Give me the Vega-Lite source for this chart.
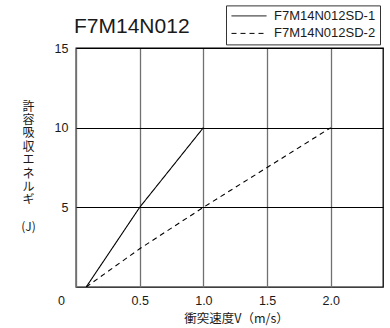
{
  "$schema": "https://vega.github.io/schema/vega-lite/v6.json",
  "width": 307,
  "height": 239,
  "autosize": {"type": "none"},
  "padding": {"left": 76, "top": 48, "right": 7, "bottom": 41},
  "background": "white",
  "title": {
    "text": "F7M14N012",
    "anchor": "start",
    "frame": "group",
    "font": "Liberation Sans",
    "fontSize": 21,
    "fontWeight": "normal",
    "color": "#1a1a1a",
    "offset": 0,
    "dy": 32,
    "dx": -2
  },
  "config": {
    "view": {"stroke": "black", "strokeWidth": 1.3},
    "font": "Liberation Sans"
  },
  "data": {
    "values": [
      {"series": "F7M14N012SD-1", "v": 0.08, "e": 0},
      {"series": "F7M14N012SD-1", "v": 0.5, "e": 5},
      {"series": "F7M14N012SD-1", "v": 1.0, "e": 10},
      {"series": "F7M14N012SD-2", "v": 0.08, "e": 0},
      {"series": "F7M14N012SD-2", "v": 0.5, "e": 2.4},
      {"series": "F7M14N012SD-2", "v": 1.0, "e": 5},
      {"series": "F7M14N012SD-2", "v": 1.5, "e": 7.5},
      {"series": "F7M14N012SD-2", "v": 2.0, "e": 10}
    ]
  },
  "mark": {"type": "line", "color": "black", "strokeWidth": 1.1, "clip": true},
  "encoding": {
    "x": {
      "field": "v",
      "type": "quantitative",
      "scale": {"domain": [0, 2.41], "nice": false, "zero": false},
      "axis": {
        "values": [0, 0.5, 1, 1.5, 2],
        "format": ".1f",
        "labelExpr": "datum.value === 0 ? '0' : datum.label",
        "ticks": false,
        "domain": false,
        "grid": true,
        "gridColor": "#707070",
        "gridWidth": 1.3,
        "gridOpacity": 1,
        "labelFont": "Liberation Sans",
        "labelFontSize": 12.5,
        "labelColor": "#1a1a1a",
        "labelPadding": 7,
        "labelFlush": false,
        "labelOverlap": false,
        "labelOffset": {"condition": {"test": "datum.value === 0", "value": -15}, "value": 0},
        "title": "衝突速度V（m/s）",
        "titleFont": "Noto Sans CJK JP",
        "titleFontSize": 12.5,
        "titleFontWeight": "normal",
        "titleColor": "#1a1a1a",
        "titlePadding": 6,
        "titleX": 160
      }
    },
    "y": {
      "field": "e",
      "type": "quantitative",
      "scale": {"domain": [0, 15], "nice": false},
      "axis": {
        "values": [5, 10, 15],
        "ticks": false,
        "domain": false,
        "grid": true,
        "gridColor": "black",
        "gridWidth": 1,
        "gridOpacity": 1,
        "labelFont": "Liberation Sans",
        "labelFontSize": 12.5,
        "labelColor": "#1a1a1a",
        "labelPadding": 8,
        "labelFlush": false,
        "labelOverlap": false,
        "title": ["許", "容", "吸", "収", "エ", "ネ", "ル", "ギ", "\u200b", "(J)"],
        "titleFont": "Noto Sans CJK JP",
        "titleFontSize": 12,
        "titleFontWeight": "normal",
        "titleColor": "#1a1a1a",
        "titleAngle": 0,
        "titleAlign": "center",
        "titleBaseline": "top",
        "titleLineHeight": 13.4,
        "titleX": -48,
        "titleY": 53
      }
    },
    "strokeDash": {
      "field": "series",
      "type": "nominal",
      "scale": {"domain": ["F7M14N012SD-1", "F7M14N012SD-2"], "range": [[1, 0], [5, 4]]},
      "legend": {
        "orient": "none",
        "legendX": 150,
        "legendY": -42.6,
        "title": null,
        "strokeColor": "#333333",
        "fillColor": "white",
        "padding": 4,
        "symbolType": "M-1,0H6",
        "symbolSize": 100,
        "symbolStrokeColor": "black",
        "symbolStrokeWidth": 1,
        "symbolFillColor": "transparent",
        "labelFont": "Liberation Sans",
        "labelFontSize": 13,
        "labelColor": "#1a1a1a",
        "labelOffset": 31,
        "rowPadding": 3.5
      }
    }
  }
}
